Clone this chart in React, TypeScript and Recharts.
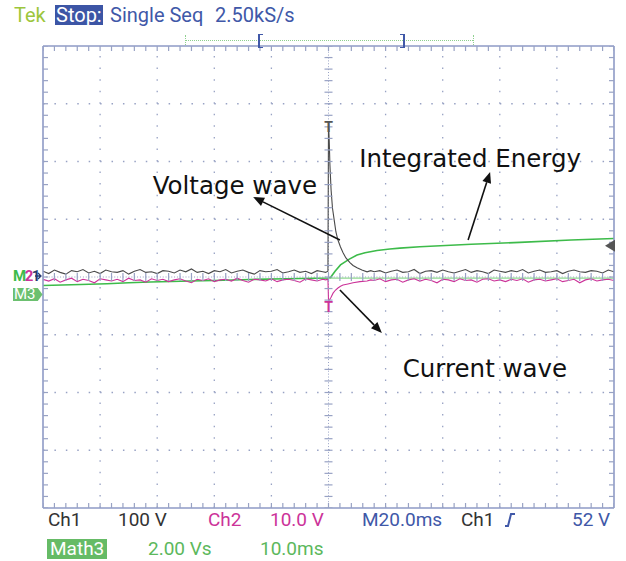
import React from 'react'
import {
  ComposedChart,
  Line,
  Scatter,
  XAxis,
  YAxis,
  ReferenceLine,
  ReferenceDot,
} from 'recharts'

// x = time in ms (20 ms/div, trigger at 0), y = screen divisions (centre = 0)

// Ch1 voltage, sampled every 2 ms from -100 ms
const CH1_PRE = [
  0.10, 0.06, 0.12, 0.08, 0.05, 0.11, 0.09, 0.13, 0.07, 0.10,
  0.06, 0.12, 0.09, 0.08, 0.11, 0.05, 0.10, 0.13, 0.08, 0.09,
  0.06, 0.11, 0.10, 0.07, 0.12, 0.09, 0.14, 0.08, 0.10, 0.06,
  0.11, 0.09, 0.13, 0.07, 0.10, 0.12, 0.08, 0.05, 0.11, 0.09,
  0.10, 0.13, 0.07, 0.09, 0.12, 0.08, 0.10, 0.06, 0.11, 0.09,
]
const CH1_PULSE_T = [-1, -0.2, 0, 0.25, 0.5, 0.9, 1.4, 2.1, 2.6, 3.3, 4.2, 5.1, 6.1, 7.5, 8.6, 10, 11.7, 13.5, 14.8]
const CH1_PULSE = [0.08, 0.1, 2.68, 2.37, 1.94, 1.51, 1.19, 0.95, 0.78, 0.64, 0.52, 0.42, 0.33, 0.25, 0.2, 0.16, 0.12, 0.09, 0.11]
// sampled every 2 ms from 16 ms
const CH1_POST = [
  0.09, 0.11, 0.07, 0.10, 0.12, 0.08, 0.09, 0.13, 0.06, 0.10,
  0.11, 0.08, 0.12, 0.09, 0.07, 0.10, 0.13, 0.08, 0.11, 0.09,
  0.06, 0.12, 0.10, 0.08, 0.11, 0.09, 0.13, 0.07, 0.10, 0.12,
  0.08, 0.09, 0.11, 0.06, 0.10, 0.12, 0.09, 0.08, 0.11, 0.10,
  0.07, 0.12, 0.09,
]

// Ch2 current
const CH2_PRE = [
  -0.04, -0.07, -0.03, -0.09, -0.05, -0.02, -0.08, -0.04, -0.06, -0.10,
  -0.03, -0.05, -0.07, -0.04, -0.08, -0.02, -0.06, -0.05, -0.09, -0.03,
  -0.06, -0.04, -0.08, -0.05, -0.03, -0.07, -0.10, -0.04, -0.06, -0.03,
  -0.08, -0.05, -0.04, -0.07, -0.02, -0.06, -0.09, -0.04, -0.05, -0.07,
  -0.03, -0.08, -0.05, -0.04, -0.06, -0.09, -0.03, -0.05, -0.07, -0.04,
]
const CH2_PULSE_T = [-1, -0.2, 0, 0.3, 0.9, 1.6, 2.4, 3.3, 4.2, 5.1, 6.8, 8.6, 11, 13.5, 14.8]
const CH2_PULSE = [-0.05, -0.04, -0.4, -0.4, -0.35, -0.28, -0.23, -0.19, -0.16, -0.14, -0.12, -0.1, -0.08, -0.07, -0.05]
const CH2_POST = [
  -0.06, -0.03, -0.08, -0.05, -0.04, -0.09, -0.05, -0.03, -0.07, -0.04,
  -0.06, -0.10, -0.04, -0.05, -0.08, -0.03, -0.06, -0.05, -0.09, -0.04,
  -0.03, -0.07, -0.05, -0.08, -0.04, -0.06, -0.03, -0.09, -0.05, -0.04,
  -0.07, -0.05, -0.03, -0.08, -0.06, -0.04, -0.10, -0.05, -0.03, -0.07,
  -0.05, -0.04, -0.06,
]

// Math3 integrated energy
const MATH3_T = [-100, -90, -77.6, -70, -62.5, -55, -48.5, -40, -27.5, -15, 0, 0.7, 2.3, 4.2, 7.3, 10, 12.8, 17, 21.5, 25, 32, 50, 67, 85, 100]
const MATH3 = [-0.147, -0.135, -0.116, -0.1, -0.087, -0.078, -0.069, -0.06, -0.043, -0.03, -0.017, -0.01, 0.1, 0.21, 0.31, 0.38, 0.42, 0.46, 0.485, 0.5, 0.525, 0.566, 0.6, 0.64, 0.667]
const MATH3_FLAT_T = [0.5, 100]
const MATH3_FLAT = [-0.02, -0.02]

const X_DOMAIN = [-100, 100]
const Y_DOMAIN = [-4, 4]
const X_DIVS = [-80, -60, -40, -20, 20, 40, 60, 80]
const Y_DIVS = [-3, -2, -1, 1, 2, 3]

const ANNOTATIONS = [
  { text: 'Voltage wave', t: -32.8, v: 1.58, from: { x: 4, y: 0.64 }, to: { x: -26.4, y: 1.385 } },
  { text: 'Integrated Energy', t: 49.6, v: 2.06, from: { x: 48.9, y: 0.64 }, to: { x: 56.6, y: 1.82 } },
  { text: 'Current wave', t: 54.8, v: -1.58, from: { x: 4, y: -0.225 }, to: { x: 18.7, y: -0.97 } },
]

const FRAME = '#8e9ac6'
const GRID = '#98a2c4'
const CH1_COLOR = '#4a4a4a'
const CH2_COLOR = '#cc3399'
const MATH_COLOR = '#3dbb4a'
const BLUE = '#4058a8'
const SCOPE_FONT = 'Roboto, "DejaVu Sans Condensed", sans-serif'

const sampled = (vals: number[], start: number) => vals.map((v, i) => ({ t: start + i * 2, v }))
const paired = (ts: number[], vs: number[]) => ts.map((t, i) => ({ t, v: vs[i] }))

const ch1Data = [...sampled(CH1_PRE, -100), ...paired(CH1_PULSE_T, CH1_PULSE), ...sampled(CH1_POST, 16)]
const ch2Data = [...sampled(CH2_PRE, -100), ...paired(CH2_PULSE_T, CH2_PULSE), ...sampled(CH2_POST, 16)]
const mathData = paired(MATH3_T, MATH3)
const mathFlat = paired(MATH3_FLAT_T, MATH3_FLAT)

// minor graticule marks, 5 per division
const xMinor = Array.from({ length: 51 }, (_, i) => -100 + i * 4)
const yMinor = Array.from({ length: 41 }, (_, i) => Math.round((-4 + i * 0.2) * 10) / 10)
const xCentreMarks = xMinor.map(t => ({ t, v: 0 }))
const yCentreMarks = yMinor.map(v => ({ t: 0, v }))
const topMarks = xMinor.map(t => ({ t, v: 4 }))
const bottomMarks = xMinor.map(t => ({ t, v: -4 }))
const leftMarks = yMinor.map(v => ({ t: -100, v }))
const rightMarks = yMinor.map(v => ({ t: 100, v }))

function Arrow(p: any) {
  const { x1, y1, x2, y2 } = p
  const a = Math.atan2(y2 - y1, x2 - x1)
  const len = 11
  const w = 4.5
  const bx = x2 - len * Math.cos(a)
  const by = y2 - len * Math.sin(a)
  const px = -Math.sin(a) * w
  const py = Math.cos(a) * w
  return (
    <g>
      <line x1={x1} y1={y1} x2={bx} y2={by} stroke="#111" strokeWidth={1.6} />
      <polygon points={`${x2},${y2} ${bx + px},${by + py} ${bx - px},${by - py}`} fill="#111" />
    </g>
  )
}

// short graticule mark, offsets from the point
const mark = (dx0: number, dy0: number, dx1: number, dy1: number) => (p: any) => (
  <line x1={p.cx + dx0} y1={p.cy + dy0} x2={p.cx + dx1} y2={p.cy + dy1} stroke={GRID} strokeWidth={1.2} />
)

const pos = (left: number, top: number, extra: React.CSSProperties = {}): React.CSSProperties => ({
  position: 'absolute', left, top, fontFamily: SCOPE_FONT, fontSize: 19, lineHeight: '20px', whiteSpace: 'nowrap', ...extra,
})

export default function App() {
  return (
    <div style={{ position: 'absolute', left: 0, top: 0, width: 626, height: 561, background: '#fff' }}>
      <ComposedChart width={626} height={561} margin={{ top: 46, right: 12, bottom: 53, left: 43 }}>
        <XAxis dataKey="t" type="number" domain={X_DOMAIN} ticks={xMinor} tick={false} tickLine={false}
          mirror stroke={FRAME} strokeWidth={1.6} allowDataOverflow />
        <XAxis xAxisId="top" orientation="top" type="number" domain={X_DOMAIN} tick={false} tickLine={false}
          mirror stroke={FRAME} strokeWidth={1.6} allowDataOverflow />
        <YAxis dataKey="v" type="number" domain={Y_DOMAIN} ticks={yMinor} tick={false} tickLine={false}
          mirror stroke={FRAME} strokeWidth={1.6} allowDataOverflow />
        <YAxis yAxisId="right" orientation="right" type="number" domain={Y_DOMAIN} tick={false} tickLine={false}
          mirror stroke={FRAME} strokeWidth={1.6} allowDataOverflow />

        {Y_DIVS.map(v => (
          <ReferenceLine key={'h' + v} y={v} stroke={GRID} strokeWidth={1.3} strokeDasharray="1.5 9.92" />
        ))}
        {X_DIVS.map(t => (
          <ReferenceLine key={'v' + t} x={t} stroke={GRID} strokeWidth={1.3} strokeDasharray="1.5 10.05" />
        ))}
        <ReferenceLine y={0} stroke={GRID} strokeDasharray="1 1.85" />
        <ReferenceLine x={0} stroke={GRID} strokeDasharray="1 1.9" />
        <Scatter data={xCentreMarks} dataKey="v" isAnimationActive={false} shape={mark(0, -4, 0, 4)} />
        <Scatter data={yCentreMarks} dataKey="v" isAnimationActive={false} shape={mark(-4, 0, 4, 0)} />
        <Scatter data={topMarks} dataKey="v" isAnimationActive={false} shape={mark(0, 0, 0, 5)} />
        <Scatter data={bottomMarks} dataKey="v" isAnimationActive={false} shape={mark(0, 0, 0, -5)} />
        <Scatter data={leftMarks} dataKey="v" isAnimationActive={false} shape={mark(0, 0, 5, 0)} />
        <Scatter data={rightMarks} dataKey="v" isAnimationActive={false} shape={mark(0, 0, -5, 0)} />

        <Line data={mathFlat} dataKey="v" stroke="#8fd88f" strokeWidth={1.2} dot={false} isAnimationActive={false} />
        <Line data={mathData} dataKey="v" stroke={MATH_COLOR} strokeWidth={1.6} dot={false} isAnimationActive={false} />
        <Line data={ch2Data} dataKey="v" stroke={CH2_COLOR} strokeWidth={1.1} dot={false} isAnimationActive={false} />
        <Line data={ch1Data} dataKey="v" stroke={CH1_COLOR} strokeWidth={1.1} dot={false} isAnimationActive={false} />

        <ReferenceDot x={0} y={2.6} ifOverflow="visible"
          shape={(p: any) => <text x={p.cx} y={p.cy} textAnchor="middle" dominantBaseline="central" fontFamily={SCOPE_FONT} fontSize={14} fontWeight="bold" fill="#555">T</text>} />
        <ReferenceDot x={0} y={-0.52} ifOverflow="visible"
          shape={(p: any) => <text x={p.cx} y={p.cy} textAnchor="middle" dominantBaseline="central" fontFamily={SCOPE_FONT} fontSize={14} fontWeight="bold" fill={CH2_COLOR}>T</text>} />
        <ReferenceDot x={100} y={0.54} ifOverflow="visible"
          shape={(p: any) => <polygon points={`${p.cx - 9},${p.cy} ${p.cx + 1},${p.cy - 6} ${p.cx + 1},${p.cy + 6}`} fill="#555" />} />

        {ANNOTATIONS.map(a => (
          <ReferenceLine key={a.text + 'arrow'} segment={[a.from, a.to]} shape={Arrow} ifOverflow="visible" />
        ))}
        {ANNOTATIONS.map(a => (
          <ReferenceDot key={a.text} x={a.t} y={a.v} ifOverflow="visible"
            shape={(p: any) => <text x={p.cx} y={p.cy} textAnchor="middle" dominantBaseline="central" fontFamily='"DejaVu Sans", sans-serif' fontSize={24.5} fill="#111">{a.text}</text>} />
        ))}
      </ComposedChart>

      {/* header */}
      <div style={pos(14, 5, { color: '#9cc63c', fontSize: 20 })}>Tek</div>
      <div style={pos(55, 5, { color: '#fff', background: '#3c55a5', padding: '0 1px', fontSize: 20 })}>Stop:</div>
      <div style={pos(110, 5, { color: BLUE, fontSize: 20 })}>Single Seq</div>
      <div style={pos(215, 5, { color: BLUE, fontSize: 20 })}>2.50kS/s</div>
      <div style={{ position: 'absolute', left: 185, top: 40, width: 288, borderTop: '1px dotted #8fd08f' }} />
      <div style={{ position: 'absolute', left: 185, top: 35, height: 10, borderLeft: '1px dotted #8fd08f' }} />
      <div style={{ position: 'absolute', left: 473, top: 35, height: 10, borderLeft: '1px dotted #8fd08f' }} />
      <div style={{ position: 'absolute', left: 258, top: 34, width: 3, height: 12, borderLeft: `2px solid ${BLUE}`, borderTop: `1px solid ${BLUE}`, borderBottom: `1px solid ${BLUE}` }} />
      <div style={{ position: 'absolute', left: 400, top: 34, width: 3, height: 12, borderRight: `2px solid ${BLUE}`, borderTop: `1px solid ${BLUE}`, borderBottom: `1px solid ${BLUE}` }} />

      {/* channel markers */}
      <div style={pos(13, 266, { fontWeight: 'bold', fontSize: 15, letterSpacing: -1.5 })}>
        <span style={{ color: MATH_COLOR }}>M</span>
        <span style={{ color: CH2_COLOR }}>2</span>
        <span style={{ color: '#2a3a70' }}>1</span>
      </div>
      <svg style={{ position: 'absolute', left: 35, top: 271 }} width={8} height={10}>
        <path d="M0 5 H6 M3 2 L6 5 L3 8" stroke="#2a3a70" strokeWidth={1.3} fill="none" />
      </svg>
      <div style={pos(13, 288, { color: '#fff', background: '#6cc070', fontSize: 15, lineHeight: '13px', padding: '0 7px 0 1px', clipPath: 'polygon(0 0, 84% 0, 100% 50%, 84% 100%, 0 100%)' })}>M3</div>

      {/* footer */}
      <div style={pos(48, 510, { color: '#333' })}>Ch1</div>
      <div style={pos(118, 510, { color: '#333' })}>100 V</div>
      <div style={pos(208, 510, { color: CH2_COLOR })}>Ch2</div>
      <div style={pos(270, 510, { color: CH2_COLOR })}>10.0 V</div>
      <div style={pos(362, 510, { color: BLUE })}>M20.0ms</div>
      <div style={pos(461, 510, { color: '#333' })}>Ch1</div>
      <svg style={{ position: 'absolute', left: 504, top: 512 }} width={12} height={16}>
        <path d="M1 14 H4 L7 2 H11" stroke={BLUE} strokeWidth={2} fill="none" />
      </svg>
      <div style={pos(572, 510, { color: BLUE })}>52 V</div>
      <div style={pos(47, 539, { color: '#fff', background: '#66bb66', padding: '0 3px' })}>Math3</div>
      <div style={pos(148, 539, { color: '#5cb85c' })}>2.00 Vs</div>
      <div style={pos(260, 539, { color: '#5cb85c' })}>10.0ms</div>
    </div>
  )
}
